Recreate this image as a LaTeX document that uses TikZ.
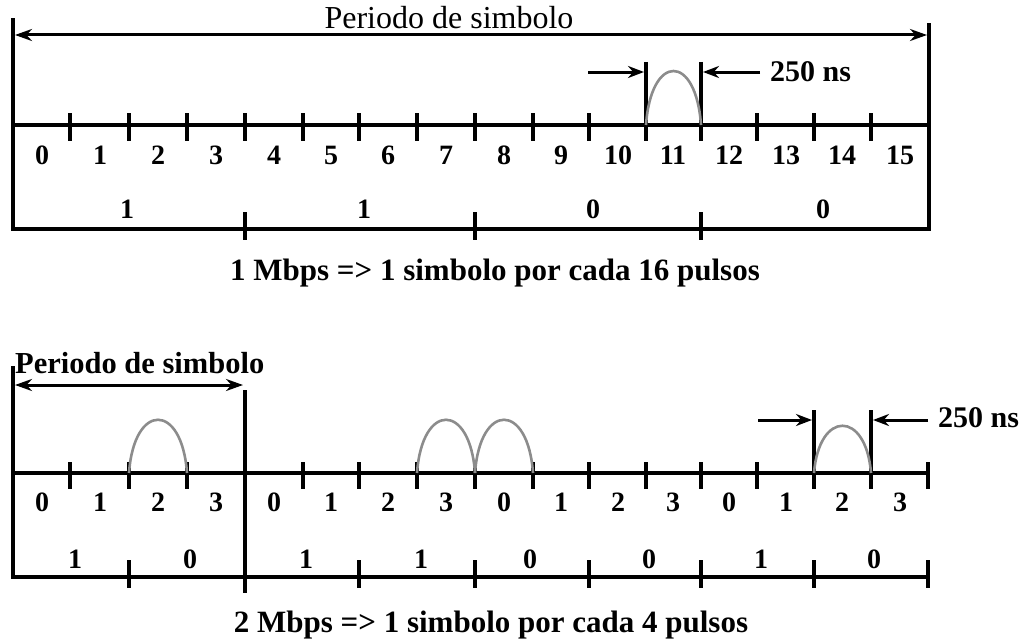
\documentclass[tikz,border=0pt]{standalone}
\usepackage{fontspec}
\setmainfont{Liberation Serif}
\usetikzlibrary{arrows.meta}
\begin{document}
\begin{tikzpicture}[x=1pt,y=-1pt,
  axis/.style={line width=3.6pt, line cap=rect},
  tickmark/.style={line width=3.2pt},
  dimarrow/.style={line width=3pt, -{Stealth[length=16pt,width=12pt]}},
  dimboth/.style={line width=3pt, {Stealth[length=17pt,width=12pt]}-{Stealth[length=17pt,width=12pt]}},
  pulse/.style={line width=2.6pt, draw=black!45},
  num/.style={font=\fontsize{28}{28}\selectfont\bfseries, inner sep=0pt},
  lbl/.style={font=\fontsize{30}{30}\selectfont\bfseries, inner sep=0pt},
  capt/.style={font=\fontsize{31}{31}\selectfont\bfseries, inner sep=0pt},
  ttl/.style={font=\fontsize{32}{32}\selectfont, inner sep=0pt},
]
\useasboundingbox (0,0) rectangle (1035,642);

% ================= TOP DIAGRAM =================
\coordinate (TL) at (13,20);
\coordinate (TR) at (929,25);
\coordinate (TBL) at (13,229);
\coordinate (TBR) at (929,229);
\coordinate (TAL) at (13,125);
\coordinate (TAR) at (929,125);
\draw[axis] (TL) -- (TBL) -- (TBR) -- (TR);
\draw[axis] (TAL) -- (TAR);
\coordinate (TPL) at (15,35);
\coordinate (TPR) at (927,35);
\draw[dimboth] (TPL) -- (TPR);
\node[ttl, anchor=base] (ttitle) at (449,29) {Periodo de simbolo};

% ticks on the axis
\foreach \x [count=\k] in {70,129,187,245,303,359,417,475,533,589,646,701,757,814,871}{
  \coordinate (ta\k) at (\x,113);
  \coordinate (tb\k) at (\x,141);
  \draw[tickmark] (ta\k) -- (tb\k);
}
% extended ticks around pulse 11
\coordinate (tp1) at (646,62);
\coordinate (tp2) at (701,62);
\draw[tickmark] (tp1) -- (tb11);
\draw[tickmark] (tp2) -- (tb12);
% pulse
\coordinate (pa) at (646,125);
\coordinate (pb) at (701,125);
\draw[pulse] (pa) .. controls (651,53) and (696,53) .. (pb);
% 250 ns arrows
\coordinate (aL) at (588,72);
\coordinate (aLe) at (644,72);
\coordinate (aR) at (760,72);
\coordinate (aRe) at (703,72);
\draw[dimarrow] (aL) -- (aLe);
\draw[dimarrow] (aR) -- (aRe);
\node[lbl, anchor=west] (tns) at (770,72) {250 ns};

% slot numbers
\foreach \x [count=\k from 0] in {42,100,158,216,274,331,388,446,504,561,618,673,729,786,842,900}{
  \node[num] (tn\k) at (\x,155) {\k};
}
% symbol boundaries
\foreach \x [count=\k] in {245,475,701}{
  \coordinate (tsa\k) at (\x,212);
  \coordinate (tsb\k) at (\x,240);
  \draw[tickmark] (tsa\k) -- (tsb\k);
}
\node[num] (tb1) at (127,209) {1};
\node[num] (tb2) at (364,209) {1};
\node[num] (tb3) at (593,209) {0};
\node[num] (tb4) at (823,209) {0};

\node[capt] (cap1) at (495,273) {1 Mbps => 1 simbolo por cada 16 pulsos};

% ================= BOTTOM DIAGRAM =================
\coordinate (BL) at (13,368);
\coordinate (BBL) at (13,577);
\coordinate (BBR) at (928,577);
\coordinate (BAL) at (13,473);
\coordinate (BAR) at (928,473);
\draw[axis] (BL) -- (BBL) -- (BBR);
\draw[axis] (BAL) -- (BAR);
\node[font=\fontsize{30.5}{30.5}\selectfont\bfseries, inner sep=0pt, anchor=base west] (btitle) at (15,373) {Periodo de simbolo};
\coordinate (BPL) at (15,385);
\coordinate (BPR) at (243,385);
\draw[dimboth] (BPL) -- (BPR);
\coordinate (BDt) at (245,390);
\coordinate (BDb) at (245,593);
\draw[axis, line cap=butt] (BDt) -- (BDb);

\foreach \x [count=\k] in {70,129,187,303,359,417,475,533,589,646,701,757,814,871,928}{
  \coordinate (ba\k) at (\x,462);
  \coordinate (bb\k) at (\x,489);
  \draw[tickmark] (ba\k) -- (bb\k);
}
% extended ticks around last pulse
\coordinate (bp1) at (814,410);
\coordinate (bp2) at (871,410);
\draw[tickmark] (bp1) -- (bb13);
\draw[tickmark] (bp2) -- (bb14);

% pulses
\coordinate (q1a) at (129,473); \coordinate (q1b) at (187,473);
\coordinate (q2a) at (417,473); \coordinate (q2b) at (475,473);
\coordinate (q3b) at (533,473);
\coordinate (q4a) at (814,473); \coordinate (q4b) at (871,473);
\draw[pulse] (q1a) .. controls (134,402) and (182,402) .. (q1b);
\draw[pulse] (q2a) .. controls (422,402) and (470,402) .. (q2b);
\draw[pulse] (q2b) .. controls (480,402) and (528,402) .. (q3b);
\draw[pulse] (q4a) .. controls (819,410) and (866,410) .. (q4b);

% 250 ns arrows
\coordinate (cL) at (758,420);
\coordinate (cLe) at (812,420);
\coordinate (cR) at (928,420);
\coordinate (cRe) at (873,420);
\draw[dimarrow] (cL) -- (cLe);
\draw[dimarrow] (cR) -- (cRe);
\node[lbl, anchor=west] (bns) at (938,418) {250 ns};

% slot numbers
\foreach \x/\d [count=\k] in {42/0,100/1,158/2,216/3,274/0,331/1,388/2,446/3,504/0,561/1,618/2,673/3,729/0,786/1,842/2,900/3}{
  \node[num] (bn\k) at (\x,502) {\d};
}
% symbol boundaries
\foreach \x [count=\k] in {129,359,475,589,701,814,928}{
  \coordinate (bsa\k) at (\x,560);
  \coordinate (bsb\k) at (\x,588);
  \draw[tickmark] (bsa\k) -- (bsb\k);
}
\foreach \x/\d [count=\k] in {75/1,190/0,306/1,421/1,530/0,649/0,761/1,874/0}{
  \node[num] (bbit\k) at (\x,559) {\d};
}

\node[capt] (cap2) at (491,625) {2 Mbps => 1 simbolo por cada 4 pulsos};
\end{tikzpicture}
\end{document}
